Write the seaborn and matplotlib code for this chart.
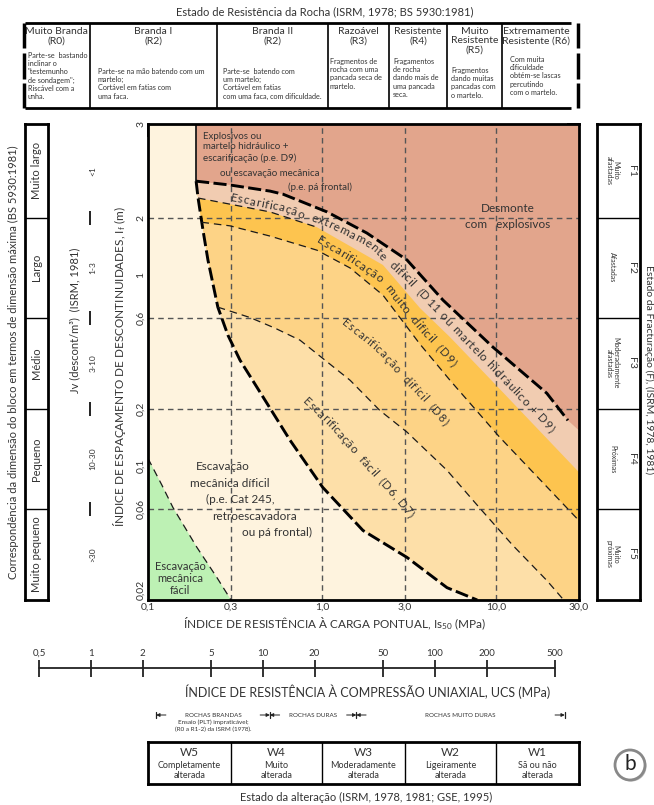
import numpy as np
import matplotlib
matplotlib.use("Agg")
import matplotlib.pyplot as plt
import matplotlib.transforms as mtransforms
from matplotlib.font_manager import FontProperties
from matplotlib.patches import Circle
from matplotlib.ticker import FixedLocator, LogLocator, NullFormatter, NullLocator
import seaborn as sns

# ---------------------------------------------------------------- data
is50_ticks = [0.1, 0.3, 1.0, 3.0, 10.0, 30.0]
is50_tick_labels = ["0,1", "0,3", "1,0", "3,0", "10,0", "30,0"]
if_top = 6.17
if_ticks = [0.02, 0.06, 0.1, 0.2, 0.6, 1.0, 2.0, if_top]
if_tick_labels = ["0,02", "0,06", "0,1", "0,2", "0,6", "1", "2", "3"]
grid_is50 = [0.3, 1.0, 3.0, 10.0]
grid_if = [0.06, 0.2, 0.6, 2.0]

# zone boundaries, Is50 (MPa) against If (m)
blast_is50 = [0.189, 0.189, 0.296, 0.503, 0.597, 1.07, 1.81, 3.08, 4.96, 9.61, 19.6, 25.9, 30.0]
blast_if = [6.17, 3.10, 2.96, 2.75, 2.65, 2.14, 1.66, 1.20, 0.74, 0.42, 0.241, 0.174, 0.154]

xdiff_is50 = [0.194, 0.296, 0.503, 0.936, 2.24, 3.66, 5.44, 10.0, 30.0]
xdiff_if = [2.53, 2.35, 2.14, 1.78, 1.13, 0.672, 0.474, 0.266, 0.0931]

vdiff_is50 = [0.203, 0.296, 0.503, 0.936, 1.45, 2.24, 3.66, 5.44, 10.5, 30.0]
vdiff_if = [1.89, 1.81, 1.60, 1.35, 1.09, 0.786, 0.435, 0.282, 0.142, 0.052]

diff_is50 = [0.252, 0.386, 0.537, 0.747, 1.01, 1.45, 2.15, 3.08, 5.23, 8.09, 12.5, 19.6, 24.5]
diff_if = [0.68, 0.60, 0.528, 0.457, 0.367, 0.282, 0.196, 0.151, 0.0953, 0.0603, 0.0386, 0.0253, 0.02]

rip_is50 = [0.189, 0.189, 0.194, 0.207, 0.221, 0.252, 0.288, 0.338, 0.423, 0.655, 1.01, 1.72, 3.08, 5.23, 7.8]
rip_if = [6.17, 3.10, 2.53, 1.72, 1.20, 0.68, 0.485, 0.359, 0.259, 0.137, 0.0776, 0.0462, 0.0334, 0.0232, 0.02]

easy_is50 = [0.1, 0.12, 0.139, 0.191, 0.249, 0.30]
easy_if = [0.11, 0.08, 0.061, 0.0377, 0.0262, 0.02]

# band label paths (Is50, If)
path_xdiff = ([0.296, 0.573, 1.07, 1.89, 3.08, 5.44, 9.61, 21.3],
              [2.58, 2.28, 1.89, 1.46, 0.975, 0.565, 0.33, 0.155])
path_vdiff = ([0.948, 1.45, 2.24, 3.66, 5.81], [1.56, 1.24, 0.942, 0.541, 0.342])
path_diff = ([1.32, 2.15, 3.20, 5.23], [0.581, 0.405, 0.275, 0.168])
path_easy = ([0.798, 1.19, 1.77, 2.63, 3.29], [0.227, 0.160, 0.105, 0.0705, 0.0554])

# block size (BS 5930) and Jv classes, bottom to top
class_limits = [0.02, 0.06, 0.2, 0.6, 2.0, if_top]
block_names = ["Muito pequeno", "Pequeno", "Médio", "Largo", "Muito largo"]
jv_values = [">30", "10-30", "3-10", "1-3", "<1"]
fract_codes = ["F5", "F4", "F3", "F2", "F1"]
fract_names = ["Muito\npróximas", "Próximas", "Moderadamente\nafastadas", "Afastadas", "Muito\nafastadas"]

# uniaxial compressive strength scale (MPa)
ucs_ticks = [0.5, 1, 2, 5, 10, 20, 50, 100, 200, 500]
ucs_tick_labels = ["0,5", "1", "2", "5", "10", "20", "50", "100", "200", "500"]
rock_class_bounds = [2.4, 11.0, 35.0, 570.0]
rock_class_names = ["ROCHAS BRANDAS", "ROCHAS DURAS", "ROCHAS MUITO DURAS"]

# weathering grades, limits on the Is50 scale
weather_limits = [0.1, 0.3, 1.0, 3.0, 10.0, 30.0]
weather_codes = ["W5", "W4", "W3", "W2", "W1"]
weather_names = ["Completamente\nalterada", "Muito\nalterada", "Moderadamente\nalterada",
                 "Ligeiramente\nalterada", "Sã ou não\nalterada"]

# rock strength table
strength_heads = ["Muito Branda\n(R0)", "Branda I\n(R2)", "Branda II\n(R2)", "Razoável\n(R3)",
                  "Resistente\n(R4)", "Muito\nResistente\n(R5)", "Extremamente\nResistente (R6)"]
strength_desc = [
    "Parte-se  bastando\ninclinar o\n\"testemunho\nde sondagem\";\nRiscável com a\nunha.",
    "Parte-se na mão batendo com um\nmartelo;\nCortável em fatias com\numa faca.",
    "Parte-se  batendo com\num martelo;\nCortável em fatias\ncom uma faca, com dificuldade.",
    "Fragmentos de\nrocha com uma\npancada seca de\nmartelo.",
    "Fragamentos\nde rocha\ndando mais de\numa pancada\nseca.",
    "Fragmentos\ndando muitas\npancadas com\no martelo.",
    "Com muita\ndificuldade\nobtém-se lascas\npercutindo\ncom o martelo.",
]

# ---------------------------------------------------------------- style
sns.set_theme(style="white")
plt.rcParams["font.family"] = ["Lato", "DejaVu Sans"]
plt.rcParams["mathtext.default"] = "regular"
TXT = "#333333"

W, H = 654, 805
fig = plt.figure(figsize=(W / 100, H / 100), dpi=100)


def rect(x0, y0, x1, y1):
    return [x0 / W, 1 - y1 / H, (x1 - x0) / W, (y1 - y0) / H]


ax = fig.add_axes(rect(148, 124, 579, 600))
ax.set_xscale("log")
ax.set_yscale("log")
ax.set_facecolor("#FEF3DE")

X_MIN, X_MAX = 0.1, 30.0
Y_MIN, Y_MAX = 0.02, if_top


def zone_polygon(bx, by):
    lead = [(x, y) for x, y in zip(rip_is50, rip_if) if y > by[0]]
    pts = lead + list(zip(bx, by))
    if pts[-1][1] <= Y_MIN * 1.0001:
        pts.append((X_MAX, Y_MIN))
    pts.append((X_MAX, Y_MAX))
    return np.array(pts)


zones = [
    (rip_is50, rip_if, "#FDDFA8"),
    (diff_is50, diff_if, "#FDD386"),
    (vdiff_is50, vdiff_if, "#FDC44F"),
    (xdiff_is50, xdiff_if, "#F1CCB1"),
    (blast_is50, blast_if, "#E2A58C"),
]
for bx, by, col in zones:
    p = zone_polygon(bx, by)
    ax.fill(p[:, 0], p[:, 1], color=col, lw=0, zorder=1)

green = np.array(list(zip(easy_is50, easy_if)) + [(X_MIN, Y_MIN)])
ax.fill(green[:, 0], green[:, 1], color="#BDF1B4", lw=0, zorder=1)

# reference grid
for gx in grid_is50:
    ax.axvline(gx, color="#555555", lw=1.0, ls=(0, (4, 3)), zorder=2)
for gy in grid_if:
    ax.axhline(gy, color="#555555", lw=1.0, ls=(0, (4, 3)), zorder=2)

thick = dict(color="black", linewidth=2.1, linestyle=(0, (4.5, 1.5)), zorder=3)
thin = dict(color="#1a1a1a", linewidth=0.9, linestyle=(0, (6, 4)), zorder=3)

# left edge of the blasting zone, then the ripping limit
sns.lineplot(x=rip_is50[:2], y=rip_if[:2], sort=False, estimator=None, ax=ax,
             color="#1a1a1a", linewidth=1.3, zorder=3)
sns.lineplot(x=rip_is50[1:], y=rip_if[1:], sort=False, estimator=None, ax=ax, **thick)
sns.lineplot(x=blast_is50[1:-1], y=blast_if[1:-1], sort=False, estimator=None, ax=ax, **thick)
sns.lineplot(x=xdiff_is50[:4], y=xdiff_if[:4], sort=False, estimator=None, ax=ax, **thin)
sns.lineplot(x=vdiff_is50, y=vdiff_if, sort=False, estimator=None, ax=ax, **thin)
sns.lineplot(x=diff_is50, y=diff_if, sort=False, estimator=None, ax=ax, **thin)
sns.lineplot(x=easy_is50, y=easy_if, sort=False, estimator=None, ax=ax, **thin)

ax.set_xlim(X_MIN, X_MAX)
ax.set_ylim(Y_MIN, Y_MAX)
ax.set_xlabel("")
ax.set_ylabel("")

ax.xaxis.set_major_locator(FixedLocator(is50_ticks))
ax.set_xticklabels(is50_tick_labels)
ax.xaxis.set_minor_locator(LogLocator(base=10, subs=np.arange(2, 10), numticks=50))
ax.xaxis.set_minor_formatter(NullFormatter())
ax.yaxis.set_major_locator(FixedLocator(if_ticks))
ax.set_yticklabels(if_tick_labels)
ax.yaxis.set_minor_locator(LogLocator(base=10, subs=np.arange(2, 10), numticks=50))
ax.yaxis.set_minor_formatter(NullFormatter())
ax.tick_params(which="both", direction="in", top=True, right=True, color="black",
               labelsize=7.5, labelcolor=TXT, pad=2)
ax.tick_params(which="major", length=9, width=1.3)
ax.tick_params(which="minor", length=6, width=1.1)
ylabels = ax.get_yticklabels()
for lab in ylabels:
    lab.set_rotation(90)
    lab.set_va("center")
ylabels[0].set_va("bottom")
for s in ax.spines.values():
    s.set_linewidth(2)
    s.set_color("black")
    s.set_zorder(6)

# zone labels
tk = dict(color=TXT, zorder=5)
ax.text(0.207, 5.6, "Explosivos ou\nmartelo hidráulico +\nescarificação (p.e. D9)",
        fontsize=7, ha="left", va="top", linespacing=1.2, **tk)
ax.text(0.259, 3.38, "ou escavação mecânica", fontsize=7, ha="left", va="center", **tk)
ax.text(0.638, 2.89, "(p.e. pá frontal)", fontsize=7, ha="left", va="center", **tk)
ax.text(11.7, 2.24, "Desmonte", fontsize=8.5, ha="center", va="center", **tk)
ax.text(11.7, 1.83, "com   explosivos", fontsize=8.5, ha="center", va="center", **tk)
for (lx, ly), line in zip([(0.270, 0.100), (0.296, 0.0815), (0.338, 0.0672), (0.412, 0.0547), (0.551, 0.0451)],
                          ["Escavação", "mecânica díficil", "(p.e. Cat 245,", "retroescavadora", "ou pá frontal)"]):
    ax.text(lx, ly, line, fontsize=8.5, ha="center", va="center", **tk)
ax.text(0.153, 0.026, "Escavação\nmecânica\nfácil", fontsize=8, ha="center", va="center",
        linespacing=1.1, **tk)

renderer = fig.canvas.get_renderer()


def text_on_path(xs, ys, text, size):
    pts = ax.transData.transform(np.column_stack([xs, ys]))
    seg = np.diff(pts, axis=0)
    seglen = np.hypot(seg[:, 0], seg[:, 1])
    cum = np.concatenate([[0.0], np.cumsum(seglen)])
    prop = FontProperties(family=["Lato", "DejaVu Sans"], size=size)

    def width(s):
        return renderer.get_text_width_height_descent(s, prop, ismath=False)[0]

    def point_at(s):
        s = min(max(s, 0.0), cum[-1])
        k = min(max(np.searchsorted(cum, s) - 1, 0), len(seg) - 1)
        t = (s - cum[k]) / seglen[k]
        return pts[k] + t * seg[k]

    scale = cum[-1] / width(text)
    cap = size * fig.dpi / 72 * 0.36
    for i, ch in enumerate(text):
        if ch == " ":
            continue
        cw = width(ch)
        s = (width(text[:i + 1]) - cw / 2) * scale
        p = point_at(s)
        d = point_at(s + 5) - point_at(s - 5)
        ang = np.arctan2(d[1], d[0])
        base = p - cap * np.array([-np.sin(ang), np.cos(ang)])
        bx, by = ax.transData.inverted().transform(base)
        ax.text(bx, by, ch, fontsize=size, rotation=np.degrees(ang), rotation_mode="anchor",
                ha="center", va="baseline", color=TXT, zorder=5)


text_on_path(*path_xdiff, "Escarificação  extremamente  difícil  (D11 ou martelo hidráulico + D9)", 8.5)
text_on_path(*path_vdiff, "Escarificação  muito  difícil  (D9)", 8.5)
text_on_path(*path_diff, "Escarificação  difícil  (D8)", 8)
text_on_path(*path_easy, "Escarificação  fácil  (D6, D7)", 8.5)

# ---------------------------------------------------------------- side panels
ax_blk = fig.add_axes(rect(25, 124, 48, 600), sharey=ax)
ax_jv = fig.add_axes(rect(60, 124, 105, 600), sharey=ax)
ax_frac = fig.add_axes(rect(597, 124, 640, 600), sharey=ax)
for a in (ax_blk, ax_jv, ax_frac):
    a.set_xlim(0, 1)
    a.xaxis.set_major_locator(NullLocator())
    a.tick_params(which="both", left=False, right=False, labelleft=False, labelright=False)
    a.set_facecolor("white")
    for s in a.spines.values():
        s.set_linewidth(2)
        s.set_color("black")
for s in ax_jv.spines.values():
    s.set_visible(False)

mids = [np.sqrt(lo * hi) for lo, hi in zip(class_limits[:-1], class_limits[1:])]
for lim in class_limits[1:-1]:
    ax_blk.axhline(lim, color="black", lw=1)
    ax_frac.axhline(lim, color="black", lw=1)
for m, name in zip(mids, block_names):
    ax_blk.text(0.5, m, name, rotation=90, ha="center", va="center", fontsize=8, color=TXT)
for m, val in zip(mids, jv_values):
    ax_jv.text(0.73, m, val, rotation=90, ha="center", va="center", fontsize=6, color=TXT)
ax_jv.plot([0.667] * 4, class_limits[1:-1], ls="none", marker="|", ms=10, mew=1.4, color="#222222")
ax_jv.text(0.33, 0.58, "Jv (descont/m³)  (ISRM, 1981)", rotation=90, ha="center", va="center",
           fontsize=8, color=TXT)
for m, code, name in zip(mids, fract_codes, fract_names):
    ax_frac.text(0.8, m, code, rotation=-90, ha="center", va="center", fontsize=7.5, color=TXT)
    ax_frac.text(0.36, m, name, rotation=-90, ha="center", va="center", fontsize=5,
                 linespacing=1.05, color=TXT)

# ---------------------------------------------------------------- weathering table
ax_w = fig.add_axes(rect(148, 742, 579, 784), sharex=ax)
ax_w.set_ylim(0, 1)
ax_w.yaxis.set_major_locator(NullLocator())
ax_w.tick_params(which="both", bottom=False, top=False, labelbottom=False, left=False)
ax_w.set_facecolor("white")
for s in ax_w.spines.values():
    s.set_linewidth(2)
    s.set_color("black")
for lim in weather_limits[1:-1]:
    ax_w.axvline(lim, color="black", lw=1)
for lo, hi, code, name in zip(weather_limits[:-1], weather_limits[1:], weather_codes, weather_names):
    cx = np.sqrt(lo * hi)
    ax_w.text(cx, 0.75, code, ha="center", va="center", fontsize=8.5, color=TXT)
    ax_w.text(cx, 0.33, name, ha="center", va="center", fontsize=6.5, linespacing=1.15, color=TXT)

# ---------------------------------------------------------------- UCS scale
ax_u = fig.add_axes(rect(39, 658, 555, 678))
ax_u.set_xscale("log")
ax_u.set_xlim(ucs_ticks[0], ucs_ticks[-1])
ax_u.set_ylim(-1, 1)
ax_u.axis("off")
ax_u.plot([ucs_ticks[0], ucs_ticks[-1]], [0, 0], color="#222222", lw=1.3, clip_on=False)
ax_u.vlines(ucs_ticks, -0.85, 0.85, color="#222222", lw=1.3, clip_on=False)
for v, lab in zip(ucs_ticks, ucs_tick_labels):
    ax_u.text(v, 1.45, lab, ha="center", va="center", fontsize=7, color=TXT, clip_on=False)

# ---------------------------------------------------------------- pixel overlay for frame text
ax_px = fig.add_axes([0, 0, 1, 1])
ax_px.set_xlim(0, W)
ax_px.set_ylim(H, 0)
ax_px.axis("off")
ax_px.set_zorder(10)

ax_px.text(335, 624, "ÍNDICE DE RESISTÊNCIA À CARGA PONTUAL, Is$_{50}$ (MPa)", ha="center",
           va="center", fontsize=8.5, color=TXT)
ax_px.text(120, 367, "ÍNDICE DE ESPAÇAMENTO DE DESCONTINUIDADES, I$_{f}$ (m)", rotation=90,
           ha="center", va="center", fontsize=8.5, color=TXT)
ax_px.text(13, 362, "Correspondência da dimensão do bloco em termos de dimensão máxima (BS 5930:1981)",
           rotation=90, ha="center", va="center", fontsize=8, color=TXT)
ax_px.text(649, 370, "Estado da Fracturação (F), (ISRM, 1978, 1981)", rotation=-90,
           ha="center", va="center", fontsize=7.5, color=TXT)
ax_px.text(368, 692, "ÍNDICE DE RESISTÊNCIA À COMPRESSÃO UNIAXIAL, UCS (MPa)", ha="center",
           va="center", fontsize=9, color=TXT)
ax_px.text(366, 797, "Estado da alteração (ISRM, 1978, 1981; GSE, 1995)", ha="center",
           va="center", fontsize=8, color=TXT)
ax_px.text(325, 12, "Estado de Resistência da Rocha (ISRM, 1978; BS 5930:1981)", ha="center",
           va="center", fontsize=8, color=TXT)

# rock class ranges on the UCS scale
blend = mtransforms.blended_transform_factory(ax_u.transData, ax_px.transData)
ry = 715
for i, b in enumerate(rock_class_bounds):
    ax_px.plot([b, b], [ry - 3, ry + 3], color="#222222", lw=0.9, transform=blend, clip_on=False)
    if i > 0:
        ax_px.annotate("", xy=(b, ry), xycoords=blend, xytext=(-7, 0), textcoords="offset points",
                       arrowprops=dict(arrowstyle="-|>", color="#222222", lw=0.7,
                                       mutation_scale=5, shrinkA=0, shrinkB=0))
    if i < len(rock_class_bounds) - 1:
        ax_px.annotate("", xy=(b, ry), xycoords=blend, xytext=(7, 0), textcoords="offset points",
                       arrowprops=dict(arrowstyle="-|>", color="#222222", lw=0.7,
                                       mutation_scale=5, shrinkA=0, shrinkB=0))
for lo, hi, name in zip(rock_class_bounds[:-1], rock_class_bounds[1:], rock_class_names):
    ax_px.text(np.sqrt(lo * hi), ry, name, transform=blend, ha="center", va="center",
               fontsize=4.5, color=TXT)
ax_px.text(np.sqrt(rock_class_bounds[0] * rock_class_bounds[1]), 726,
           "Ensaio (PLT) impraticável;\n(R0 a R1-2) da ISRM (1978).", transform=blend,
           ha="center", va="center", fontsize=4.5, linespacing=1.3, color=TXT)

# rock strength table
col_edges = [23, 90, 217, 328, 389, 447, 502, 571]
desc_x = [28, 98, 223, 330, 393, 451, 510]
desc_y = [52, 68, 68, 58, 58, 67, 56]
ax_px.hlines([23, 108], 25, 571, color="black", lw=2)
ax_px.vlines(col_edges[1:-1], 23, 108, color="black", lw=1.2)
for xb in (24, 578):
    for y0, y1 in [(23, 48), (53, 79), (83, 108)]:
        ax_px.plot([xb, xb], [y0, y1], color="black", lw=2.5, solid_capstyle="butt")
for i, (head, desc) in enumerate(zip(strength_heads, strength_desc)):
    cx = (col_edges[i] + col_edges[i + 1]) / 2
    ax_px.text(cx, 27, head, ha="center", va="top", fontsize=7.5, linespacing=1.05, color=TXT)
    ax_px.text(desc_x[i], desc_y[i], desc, ha="left", va="top", fontsize=5.2, linespacing=1.2,
               color=TXT)

# panel tag
ax_px.add_patch(Circle((631.5, 766.5), 15, facecolor="#bbbbbb", edgecolor="none"))
ax_px.add_patch(Circle((630, 765), 15, facecolor="white", edgecolor="#888888", lw=2))
ax_px.text(630, 764, "b", ha="center", va="center", fontsize=15, color="#222222")

fig.savefig("out.png", dpi=100)
